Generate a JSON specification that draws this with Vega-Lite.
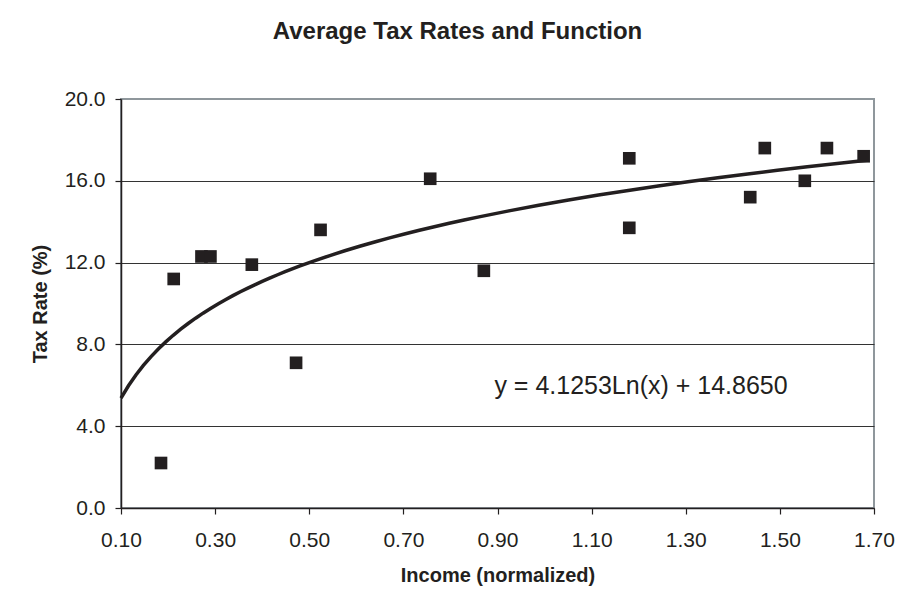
{
  "$schema": "https://vega.github.io/schema/vega-lite/v6.json",
  "width": 753,
  "height": 409,
  "autosize": {"type": "none"},
  "padding": {"left": 121, "top": 99, "right": 33, "bottom": 104},
  "background": "white",
  "title": {
    "text": "Average Tax Rates and Function",
    "font": "Liberation Sans",
    "fontSize": 24,
    "fontWeight": "bold",
    "color": "#231f20",
    "anchor": "middle",
    "dx": -40,
    "offset": 44
  },
  "config": {
    "view": {"stroke": "#8f979c", "strokeWidth": 2},
    "font": "Liberation Sans"
  },
  "data": {
    "values": [
      {"income": 0.185, "rate": 2.2},
      {"income": 0.212, "rate": 11.2},
      {"income": 0.271, "rate": 12.3},
      {"income": 0.29, "rate": 12.3},
      {"income": 0.378, "rate": 11.9},
      {"income": 0.472, "rate": 7.1},
      {"income": 0.524, "rate": 13.6},
      {"income": 0.757, "rate": 16.1},
      {"income": 0.871, "rate": 11.6},
      {"income": 1.18, "rate": 17.1},
      {"income": 1.18, "rate": 13.7},
      {"income": 1.437, "rate": 15.2},
      {"income": 1.468, "rate": 17.6},
      {"income": 1.553, "rate": 16.0},
      {"income": 1.6, "rate": 17.6},
      {"income": 1.678, "rate": 17.2}
    ]
  },
  "encoding": {
    "x": {
      "field": "income",
      "type": "quantitative",
      "scale": {"domain": [0.1, 1.7], "nice": false, "zero": false},
      "axis": {
        "title": "Income (normalized)",
        "values": [0.1, 0.3, 0.5, 0.7, 0.9, 1.1, 1.3, 1.5, 1.7],
        "format": ".2f",
        "grid": false,
        "labelFlush": false,
        "domainColor": "#231f20",
        "domainWidth": 1.5,
        "tickColor": "#231f20",
        "tickSize": 6,
        "tickWidth": 1.2,
        "labelFont": "Liberation Sans",
        "labelFontSize": 21,
        "labelColor": "#231f20",
        "labelPadding": 15,
        "titleFont": "Liberation Sans",
        "titleFontSize": 20,
        "titleFontWeight": "bold",
        "titleColor": "#231f20",
        "titlePadding": 15
      }
    },
    "y": {
      "field": "rate",
      "type": "quantitative",
      "scale": {"domain": [0, 20], "nice": false},
      "axis": {
        "title": "Tax Rate (%)",
        "values": [0, 4, 8, 12, 16, 20],
        "format": ".1f",
        "grid": true,
        "labelFlush": false,
        "gridColor": {"condition": {"test": "datum.value == 20", "value": "#8f979c"}, "value": "#333333"},
        "gridWidth": 1,
        "domainColor": "#231f20",
        "domainWidth": 1.5,
        "tickColor": "#231f20",
        "tickSize": 6,
        "tickWidth": 1.2,
        "labelFont": "Liberation Sans",
        "labelFontSize": 21,
        "labelColor": "#231f20",
        "labelPadding": 10,
        "titleFont": "Liberation Sans",
        "titleFontSize": 20,
        "titleFontWeight": "bold",
        "titleColor": "#231f20",
        "titleX": -81,
        "titleBaseline": "middle"
      }
    }
  },
  "layer": [
    {
      "transform": [
        {"regression": "rate", "on": "income", "method": "log", "extent": [0.1, 1.685]}
      ],
      "mark": {"type": "line", "color": "#231f20", "strokeWidth": 3.5},
      "encoding": {}
    },
    {
      "mark": {"type": "square", "size": 160, "color": "#231f20", "filled": true, "opacity": 1}
    },
    {
      "data": {"values": [{"income": 1.205, "rate": 5.95, "label": "y = 4.1253Ln(x) + 14.8650"}]},
      "mark": {"type": "text", "font": "Liberation Sans", "fontSize": 25, "color": "#231f20", "align": "center", "baseline": "middle"},
      "encoding": {"text": {"field": "label"}}
    }
  ]
}
